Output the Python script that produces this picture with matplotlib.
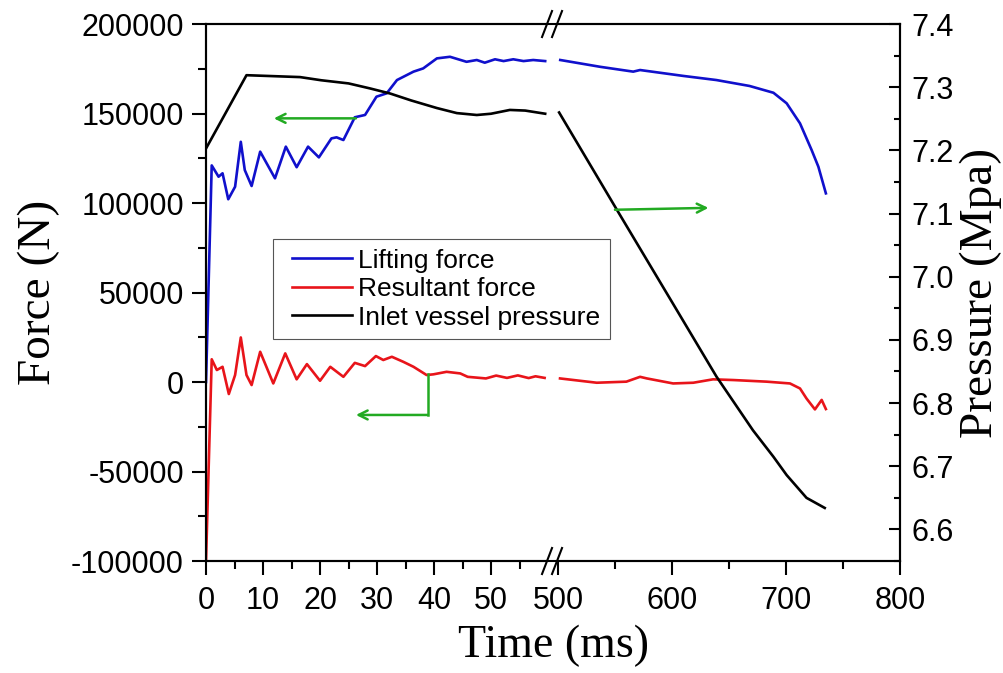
import numpy as np
import matplotlib
matplotlib.use("Agg")
import matplotlib.pyplot as plt
from matplotlib import ticker as tick
from matplotlib.legend_handler import HandlerLine2D

# datos (tiempo en ms, fuerza en N, presion en MPa)
t_lift_a = [0, 1.0, 2.2, 2.9, 3.9, 5.1, 6.1, 6.8, 8.0, 9.5, 12.1, 14.0, 15.9, 17.9, 19.8,
            22.0, 22.9, 24.1, 26.1, 27.9, 29.9, 31.7, 33.5, 36.4, 38.1, 40.5, 42.8, 45.7,
            47.5, 48.9, 50.7, 52.2, 53.9, 55.7, 57.4, 59.5]
f_lift_a = [0, 121000, 114700, 116600, 102100, 109100, 134200, 118400, 109500, 128700,
            113800, 131500, 120000, 131500, 125500, 136100, 136700, 135200, 147900, 149200,
            159400, 161300, 168700, 173400, 175200, 180800, 181700, 178900, 179900, 178400,
            180300, 179300, 180300, 179300, 179900, 179300]
t_lift_b = [502, 537, 566, 572, 610, 639, 668, 689, 700.6, 712.3, 722.5, 728.4, 735]
f_lift_b = [179900, 176100, 173400, 174300, 171000, 168700, 165400, 161600, 155700,
            144500, 129600, 120300, 105400]

t_res_a = [0, 1.0, 1.9, 2.9, 4.0, 5.1, 6.1, 7.1, 8.0, 9.5, 11.8, 13.9, 15.9, 17.7, 20.0,
           21.8, 24.1, 26.1, 27.9, 29.8, 31.1, 32.6, 34.6, 36.4, 38.7, 39.9, 42.2, 44.6,
           45.9, 49.1, 50.9, 52.8, 54.7, 56.6, 57.8, 59.4]
f_res_a = [-100000, 12700, 6700, 8500, -6700, 3900, 24900, 3900, -1700, 16900, -800, 16000,
           1500, 10000, 700, 8500, 2900, 10700, 8900, 14500, 12300, 14100, 11300, 8500,
           3900, 4300, 5700, 4800, 2900, 2000, 3600, 2300, 3700, 2200, 3200, 2300]
t_res_b = [501.8, 534, 560, 572, 578, 601, 618.7, 636, 654, 683, 703.5, 712.3, 718, 725.4,
           731.3, 735]
f_res_b = [2000, -400, 200, 2900, 2000, -800, -400, 1500, 1100, 200, -800, -3600, -9200,
           -15300, -10000, -15100]

t_pres_a = [0, 7.1, 16.5, 20.2, 25.0, 28.8, 32.3, 36.0, 40.5, 44.0, 47.5, 50.0, 53.3, 56.0, 59.5]
p_pres_a = [7.203, 7.319, 7.316, 7.311, 7.306, 7.298, 7.290, 7.279, 7.267, 7.259, 7.256,
            7.258, 7.264, 7.263, 7.258]
t_pres_b = [501, 551, 600, 639, 671, 689, 700.6, 718, 734]
p_pres_b = [7.260, 7.108, 6.960, 6.842, 6.757, 6.715, 6.686, 6.650, 6.634]

xticks_mayor = [0, 10, 20, 30, 40, 50, 500, 600, 700, 800]
xticks_menor = [5, 15, 25, 35, 45, 55, 550, 650, 750]

# eje x cortado: 0-60.7 ms y 495-800 ms
B0, B1, K, EPS = 60.7, 495.0, 0.2, 1e-4
G = B0 + (B1 - B0) * EPS


def ida(t):
    t = np.asarray(t, dtype=float)
    return np.where(t <= B0, t, np.where(t < B1, B0 + (t - B0) * EPS, G + (t - B1) * K))


def vuelta(u):
    u = np.asarray(u, dtype=float)
    return np.where(u <= B0, u, np.where(u < G, B0 + (u - B0) / EPS, B1 + (u - G) / K))


azul = "#1010CC"
rojo = "#E8141A"
verde = "#22AA22"
sans = "Liberation Sans"
serif = "Liberation Serif"
grosor = 1.9

fig = plt.figure(figsize=(10.04, 6.73), dpi=100)
ax = fig.add_axes([0.2052, 0.1664, 0.6912, 0.7979])
ax.set_xscale("function", functions=(ida, vuelta))
ax2 = ax.twinx()

l1, = ax.plot(t_lift_a, f_lift_a, color=azul, lw=grosor, label="Lifting force")
ax.plot(t_lift_b, f_lift_b, color=azul, lw=grosor)
l2, = ax.plot(t_res_a, f_res_a, color=rojo, lw=grosor, label="Resultant force")
ax.plot(t_res_b, f_res_b, color=rojo, lw=grosor)
l3, = ax2.plot(t_pres_a, p_pres_a, color="black", lw=grosor, label="Inlet vessel pressure")
ax2.plot(t_pres_b, p_pres_b, color="black", lw=grosor)

ax.set_xlim(0, 800)
ax.set_ylim(-100000, 200000)
ax2.set_ylim(6.55, 7.4)

ax.xaxis.set_major_locator(tick.FixedLocator(xticks_mayor))
ax.xaxis.set_minor_locator(tick.FixedLocator(xticks_menor))
ax.xaxis.set_major_formatter(tick.FuncFormatter(lambda v, p: "%d" % round(v)))
ax.xaxis.set_minor_formatter(tick.NullFormatter())
ax.yaxis.set_major_locator(tick.MultipleLocator(50000))
ax.yaxis.set_minor_locator(tick.MultipleLocator(25000))
ax.yaxis.set_major_formatter(tick.FuncFormatter(lambda v, p: "%d" % v))
ax2.yaxis.set_major_locator(tick.FixedLocator(np.arange(6.6, 7.41, 0.1)))
ax2.yaxis.set_minor_locator(tick.FixedLocator(np.arange(6.55, 7.41, 0.05)))
ax2.yaxis.set_major_formatter(tick.FormatStrFormatter("%.1f"))

ax.tick_params(axis="both", which="major", direction="out", length=10, width=1.5,
               labelsize=22, pad=6, top=False, right=False)
ax.tick_params(axis="both", which="minor", direction="out", length=6, width=1.5,
               top=False, right=False)
ax.tick_params(axis="x", pad=8)
ax2.tick_params(axis="y", which="major", direction="in", length=8, width=1.5,
                labelsize=22, pad=8)
ax2.tick_params(axis="y", which="minor", direction="in", length=4, width=1.5)
for a in (ax, ax2):
    for lab in a.get_xticklabels() + a.get_yticklabels():
        lab.set_fontfamily(sans)
    for s in a.spines.values():
        s.set_linewidth(1.5)

ax.set_xlabel("Time (ms)", fontfamily=serif, fontsize=33, labelpad=6)
ax.set_ylabel("Force (N)", fontfamily=serif, fontsize=34, labelpad=8)
ax2.set_ylabel("Pressure (Mpa)", fontfamily=serif, fontsize=34, labelpad=4)

# marcas del corte del eje
xb = B0 / float(ida(800))
dx, dy = 5.0 / 694, 13.0 / 537
for yb in (0.0, 1.0):
    ax.plot([xb - 3 * dx / 5, xb + 3 * dx / 5], [yb, yb], color="white", lw=3,
            transform=ax.transAxes, clip_on=False, zorder=5)
    for off in (-dx, dx):
        ax.plot([xb + off - dx, xb + off + dx], [yb - dy, yb + dy], color="black", lw=1.5,
                transform=ax.transAxes, clip_on=False, zorder=6)

# flechas verdes
flecha = dict(arrowstyle="->", color=verde, lw=1.8, mutation_scale=16, shrinkA=0, shrinkB=0)
ax.annotate("", xy=(11.9, 147300), xytext=(26.3, 147300), arrowprops=flecha)
ax.plot([38.9, 38.9], [4300, -18400], color=verde, lw=1.8)
ax.annotate("", xy=(26.3, -18400), xytext=(38.9, -18400), arrowprops=flecha)
ax2.annotate("", xy=(632, 7.109), xytext=(550, 7.106), arrowprops=flecha)

leg = ax2.legend([l1, l2, l3], [l1.get_label(), l2.get_label(), l3.get_label()],
                 loc="upper left", bbox_to_anchor=(0.0961, 0.5996), borderaxespad=0,
                 prop={"family": sans, "size": 19}, handlelength=2.65, handletextpad=0.24,
                 labelspacing=0.17, borderpad=0.36, fancybox=False, framealpha=1,
                 edgecolor="#555555",
                 handler_map={matplotlib.lines.Line2D: HandlerLine2D(xpad=0.38)})
leg.get_frame().set_linewidth(0.8)

fig.savefig("out.png", dpi=100)
